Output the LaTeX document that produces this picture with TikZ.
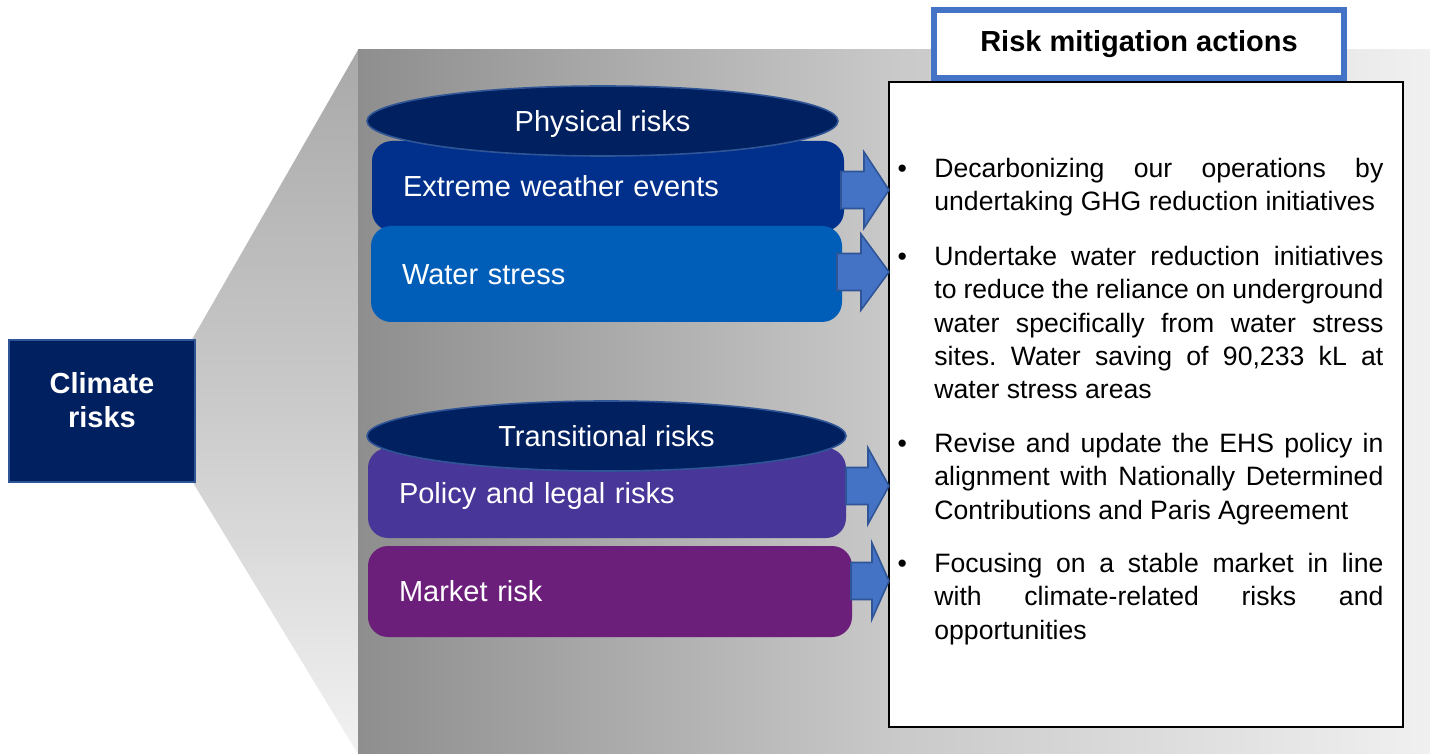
\documentclass[tikz,border=0pt]{standalone}
\usepackage{fontspec}
\setmainfont{Liberation Sans}
\usetikzlibrary{shapes.geometric}

\definecolor{navy}{HTML}{002060}
\definecolor{navyedge}{HTML}{2F5597}
\definecolor{extremeblue}{HTML}{00308C}
\definecolor{waterblue}{HTML}{005EB8}
\definecolor{policypurple}{HTML}{483698}
\definecolor{marketpurple}{HTML}{6B1F7B}
\definecolor{arrowblue}{HTML}{4472C4}
\definecolor{funneltop}{HTML}{A9A9A9}
\definecolor{funnelmid}{HTML}{CACACA}
\definecolor{funnelbot}{HTML}{F2F2F2}
\definecolor{panelleft}{HTML}{8E8E8E}
\definecolor{panelmid}{HTML}{C9C9C9}
\definecolor{panelright}{HTML}{F0F0F0}

\tikzset{
  riskbox/.style={rounded corners=10pt, text=white, inner xsep=15.5pt, inner ysep=0pt,
    text width=#1, align=left, font=\fontsize{14.5}{17}\selectfont,
    text height=10.4pt, text depth=0pt},
  riskellipse/.style={ellipse, fill=navy, draw=navyedge, line width=0.8pt, text=white,
    inner sep=0pt, minimum width=#1, minimum height=35pt,
    font=\fontsize{14.5}{17}\selectfont, text height=10.4pt, text depth=0pt},
  blockarrow/.style={fill=arrowblue, draw=navyedge, line width=0.8pt},
  actiontext/.style={anchor=base west, inner sep=0pt, text width=224.5pt, align=justify,
    font=\fontsize{13.3}{16.65}\selectfont}
}
\newcommand{\itemdot}{\llap{\textbullet\hspace{13.7pt}}}

\begin{document}
\frenchspacing
\begin{tikzpicture}[x=0.5pt, y=-0.5pt]
  \useasboundingbox (0,0) rectangle (1430,754);

  % Funnel and backdrop
  \shade[top color=funneltop, bottom color=funnelbot, middle color=funnelmid]
    (358,50) -- (190,343) -- (192,481) -- (358,754) -- cycle;
  \shade[left color=panelleft, right color=panelright, middle color=panelmid]
    (358,50) rectangle (1430,754);

  \node[draw=navyedge, line width=1pt, fill=navy, minimum width=93pt, minimum height=70.5pt]
    (climate) at (102,411) {};
  \node[text=white, align=center, font=\bfseries\fontsize{14.5}{17}\selectfont]
    (climatetext) at (102,400) {Climate\\risks};

  \node[draw=black, line width=0.6pt, fill=white, minimum width=257pt, minimum height=322.5pt]
    (actions) at (1146,404.5) {};
  \node[draw=arrowblue, line width=3pt, fill=white, minimum width=205pt, minimum height=34pt,
    font=\bfseries\fontsize{14.5}{17}\selectfont] (title) at (1139,44) {Risk mitigation actions};

  % Physical risks
  \node[riskbox=205pt, fill=extremeblue, minimum height=45pt] (extreme) at (608,186) {Extreme weather events};
  \node[riskbox=204.5pt, fill=waterblue, minimum height=48pt] (water) at (606.5,274) {Water stress};
  \node[riskellipse=235.5pt] (physical) at (602.5,121) {Physical risks};

  % Transitional risks
  \node[riskbox=208pt, fill=policypurple, minimum height=45pt] (policy) at (607,493) {Policy and legal risks};
  \node[riskbox=211pt, fill=marketpurple, minimum height=45.5pt] (market) at (610,591.5) {Market risk};
  \node[riskellipse=239.5pt] (transitional) at (606.5,436) {Transitional risks};

  \foreach \yc/\xs/\xb in {190/841/864, 272/837/861, 486/846/868, 581/851/872}
    \draw[blockarrow] (\xs,\yc-18.5) -- (\xb,\yc-18.5) -- (\xb,\yc-38) -- (889,\yc)
      -- (\xb,\yc+38) -- (\xb,\yc+18.5) -- (\xs,\yc+18.5) -- cycle;

  % Mitigation actions
  \node[actiontext] (act1) at (934,177.5) {\itemdot Decarbonizing our operations by\linebreak
    undertaking GHG reduction initiatives};
  \node[actiontext] (act2) at (934,265.5) {\itemdot Undertake water reduction initiatives\linebreak
    to reduce the reliance on underground\linebreak water specifically from water stress\linebreak
    sites. Water saving of 90,233 kL at\linebreak water stress areas};
  \node[actiontext] (act3) at (934,452.5) {\itemdot Revise and update the EHS policy in\linebreak
    alignment with Nationally Determined\linebreak Contributions and Paris Agreement};
  \node[actiontext] (act4) at (934,572.5) {\itemdot Focusing on a stable market in line\linebreak
    with climate-related risks and\linebreak opportunities};
\end{tikzpicture}
\end{document}
